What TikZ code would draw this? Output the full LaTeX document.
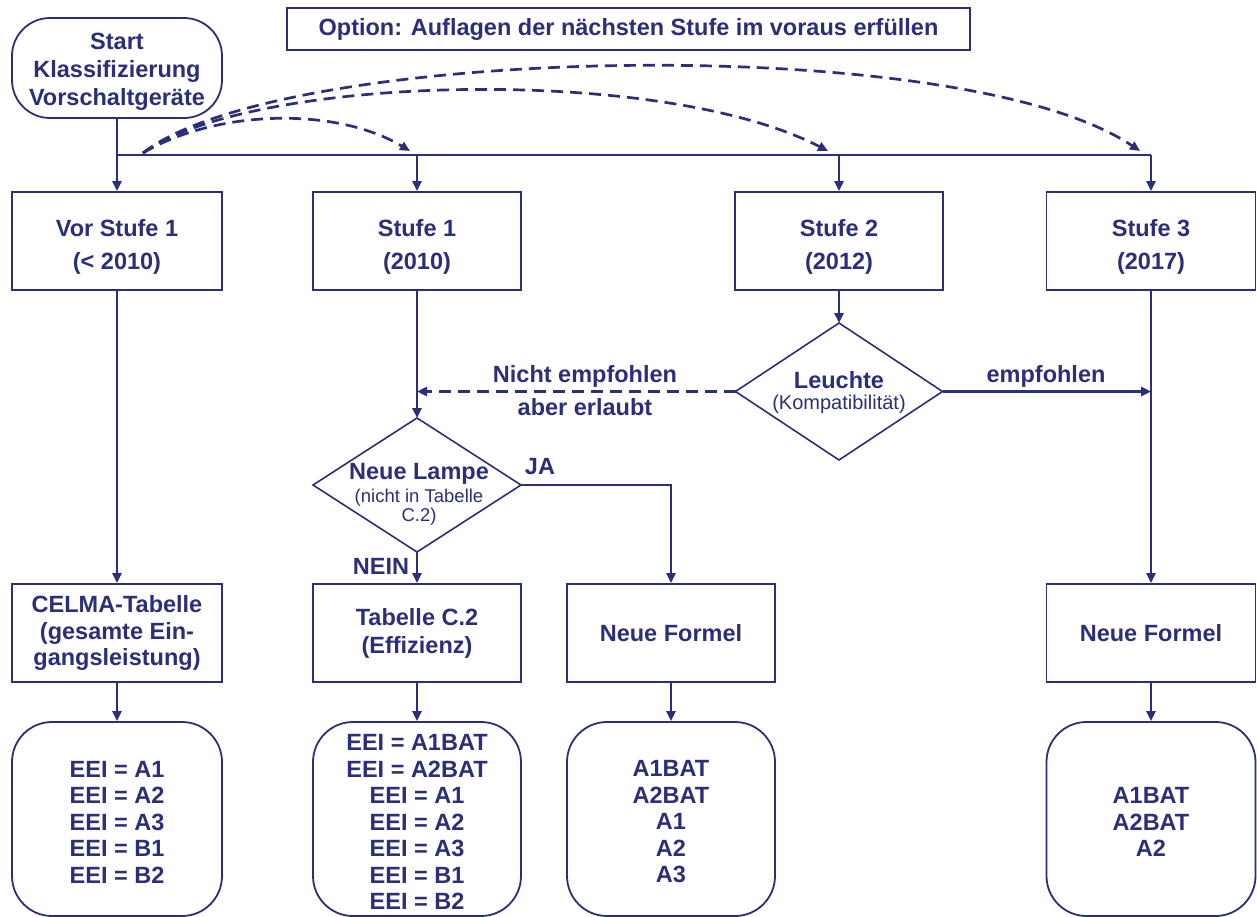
\documentclass[tikz,border=0pt]{standalone}
\usepackage{fontspec}
\setmainfont{Liberation Sans}
\usetikzlibrary{shapes.geometric,arrows.meta}
\definecolor{navy}{RGB}{43,46,120}
\newcommand\myup[1]{\rule{0pt}{#1}}
\tikzset{
  lbl/.style={text=navy,font=\bfseries\fontsize{23.5}{28}\selectfont,align=center,inner sep=0pt},
  sml/.style={text=navy,font=\fontsize{18.5}{19}\selectfont,align=center,inner sep=0pt},
  boxa/.style={draw=navy,line width=1.8pt,text=navy,align=center,inner sep=0pt,
               minimum width=208pt,minimum height=98pt,font=\bfseries\fontsize{23.5}{33}\selectfont},
  rbox/.style={boxa,rounded corners=40pt,minimum height=194pt,font=\bfseries\fontsize{23.5}{26.5}\selectfont},
  dia/.style={draw=navy,line width=1.6pt,diamond,inner sep=0pt,outer sep=0pt,
              minimum width=208pt,minimum height=136pt},
  conn/.style={draw=navy,line width=2.7pt},
  arr/.style={conn,-{Triangle[length=10pt,width=9pt]}},
  darr/.style={arr,dash pattern=on 12pt off 7pt},
}
\begin{document}
\begin{tikzpicture}[x=1pt,y=-1pt]
\useasboundingbox (0,0) rectangle (1257,917);
% top
\node[boxa,rounded corners=38pt,minimum width=210pt,minimum height=100pt,font=\bfseries\fontsize{23.5}{28}\selectfont] (start) at (117,68) {\myup{23pt}Start\\Klassifizierung\\Vorschaltgeräte};
\node[boxa,minimum width=683pt,minimum height=42pt,font=\bfseries\fontsize{23.5}{28}\selectfont] (opt) at (628.5,29) {Option: Auflagen der nächsten Stufe im voraus erfüllen};
% stage boxes
\node[boxa,minimum width=210pt] (b1) at (117,241) {\myup{28pt}Vor Stufe 1\\(< 2010)};
\node[boxa] (b2) at (417,241) {\myup{28pt}Stufe 1\\(2010)};
\node[boxa] (b3) at (839,241) {\myup{28pt}Stufe 2\\(2012)};
\node[boxa,minimum width=209pt] (b4) at (1151,241) {\myup{28pt}Stufe 3\\(2017)};
% diamonds
\node[dia,minimum width=207pt,minimum height=137pt] (leu) at (839,391.5) {};
\node[lbl] (leuT) at (839,380) {Leuchte};
\node[sml,font=\fontsize{20}{21}\selectfont] (leuS) at (839,404) {(Kompatibilität)};
\node[dia,minimum height=134pt] (nl) at (417,485) {};
\node[lbl] (nlT) at (419,474) {Neue Lampe};
\node[sml] (nlS) at (419,507) {(nicht in Tabelle\\C.2)};
% second row
\node[boxa,minimum width=210pt,font=\bfseries\fontsize{23.5}{26.5}\selectfont] (celma) at (117,633) {CELMA-Tabelle\\(gesamte Ein-\\gangsleistung)};
\node[boxa,font=\bfseries\fontsize{23.5}{28}\selectfont] (tab) at (417,633) {Tabelle C.2\\(Effizienz)};
\node[boxa] (nf1) at (671,633) {Neue Formel};
\node[boxa,minimum width=209pt] (nf2) at (1151,633) {Neue Formel};
% result boxes
\node[rbox,minimum width=210pt] (r1) at (117,819) {\myup{22pt}EEI = A1\\EEI = A2\\EEI = A3\\EEI = B1\\EEI = B2};
\node[rbox] (r2) at (417,819) {\myup{22pt}EEI = A1BAT\\EEI = A2BAT\\EEI = A1\\EEI = A2\\EEI = A3\\EEI = B1\\EEI = B2};
\node[rbox] (r3) at (671,819) {\myup{22pt}A1BAT\\A2BAT\\A1\\A2\\A3};
\node[rbox,minimum width=209pt] (r4) at (1151,819) {\myup{22pt}A1BAT\\A2BAT\\A2};
% bus
\coordinate (j1) at (start.south |- 0,155);
\coordinate (j2) at (b2.north |- 0,155);
\coordinate (j3) at (b3.north |- 0,155);
\coordinate (j4) at (b4.north |- 0,155);
\draw[conn] (start.south) -- (j1) -- (j4);
\draw[arr] (j1) -- (b1.north);
\draw[arr] (j2) -- (b2.north);
\draw[arr] (j3) -- (b3.north);
\draw[arr] (j4) -- (b4.north);
% dashed option arcs
\coordinate (s0) at (143,153);
\coordinate (e1) at (410,151);
\coordinate (e2) at (828,151);
\coordinate (e3) at (1140,151);
\draw[darr] (s0) .. controls (215,110) and (335,106) .. (e1);
\draw[darr] (s0) .. controls (250,75) and (660,64) .. (e2);
\draw[darr] (s0) .. controls (280,45) and (960,30) .. (e3);
% column 1
\draw[arr] (b1.south) -- (celma.north);
\draw[arr] (celma.south) -- (r1.north);
% column 2
\draw[arr] (b2.south) -- (nl.north);
\coordinate (m) at (b2.south |- leu.west);
\draw[darr] (leu.west) -- (m);
\node[lbl] (ne) at (585,376) {Nicht empfohlen};
\node[lbl] (ae) at (585,407) {aber erlaubt};
\draw[arr] (nl.south) -- (tab.north);
\node[lbl] (nein) at (381,566) {NEIN};
\draw[arr] (tab.south) -- (r2.north);
\coordinate (ja1) at (nf1.north |- nl.east);
\draw[arr] (nl.east) -- (ja1) -- (nf1.north);
\node[lbl] (ja) at (540,467) {JA};
\draw[arr] (nf1.south) -- (r3.north);
% column 3/4
\draw[arr] (b3.south) -- (leu.north);
\coordinate (m4) at (b4.south |- leu.east);
\draw[arr] (leu.east) -- (m4);
\node[lbl] (emp) at (1046,376) {empfohlen};
\draw[arr] (b4.south) -- (nf2.north);
\draw[arr] (nf2.south) -- (r4.north);
\end{tikzpicture}
\end{document}
